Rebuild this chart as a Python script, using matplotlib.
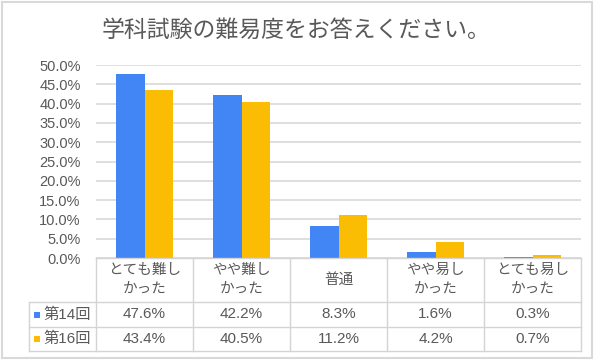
import matplotlib
matplotlib.use("Agg")
import matplotlib.pyplot as plt
from matplotlib.transforms import blended_transform_factory
from matplotlib.patches import Rectangle
import numpy as np

plt.rcParams['font.family'] = ['Liberation Sans', 'Noto Sans CJK JP', 'DejaVu Sans']

title = "学科試験の難易度をお答えください。"
categories = ["とても難し\nかった", "やや難し\nかった", "普通", "やや易し\nかった", "とても易し\nかった"]
series_names = ["第14回", "第16回"]
s14 = [47.6, 42.2, 8.3, 1.6, 0.3]
s16 = [43.4, 40.5, 11.2, 4.2, 0.7]
colors = ["#4285F4", "#FBBC04"]
yticks = [0, 5, 10, 15, 20, 25, 30, 35, 40, 45, 50]

W, H = 600, 363
fig = plt.figure(figsize=(6, 3.63), dpi=100)
fig.patch.set_facecolor("white")

def fx(px):
    return px / W

def fy(py):
    return (H - py) / H

# outer border
fig.add_artist(Rectangle((fx(2), fy(358)), fx(592) - fx(2), fy(2) - fy(358),
                         transform=fig.transFigure, fill=False, edgecolor="#d9d9d9", lw=1.5))

ax = fig.add_axes([fx(96), fy(258), fx(581) - fx(96), fy(65) - fy(258)])
n = len(categories)
x = np.arange(n) + 0.5
bw = 0.29
ax.bar(x - bw / 2, s14, bw, color=colors[0], zorder=3)
ax.bar(x + bw / 2, s16, bw, color=colors[1], zorder=3)
ax.set_xlim(0, n)
ax.set_ylim(0, 50)
ax.set_yticks(yticks)
ax.set_yticklabels([f"{v:.1f}%" for v in yticks])
ax.tick_params(axis='y', length=0, pad=11, labelsize=10.5, labelcolor="#595959")
ax.set_xticks([])
for s in ax.spines.values():
    s.set_visible(False)
ax.yaxis.grid(True, color="#d9d9d9", lw=1.2, zorder=0)
ax.set_axisbelow(True)

fig.text(fx(296), fy(30), title, ha="center", va="center", fontsize=16.5, color="#595959",
         family=['Noto Sans CJK JP', 'DejaVu Sans'])

# table
tr = blended_transform_factory(ax.transData, fig.transFigure)
tf = fig.transFigure
lc = "#d4d4d4"
row_top, row1, row2, row_bot = 258, 302, 327, 351
left_px = 29
fig.add_artist(plt.Line2D([0, n], [fy(row_top)] * 2, transform=tr, color=lc, lw=1))
for yy in (row1, row2, row_bot):
    fig.add_artist(plt.Line2D([fx(left_px), fx(581)], [fy(yy)] * 2, transform=tf, color=lc, lw=1))
for i in range(n + 1):
    fig.add_artist(plt.Line2D([i, i], [fy(row_top), fy(row_bot)], transform=tr, color=lc, lw=1))
fig.add_artist(plt.Line2D([fx(left_px)] * 2, [fy(row1), fy(row_bot)], transform=tf, color=lc, lw=1))

tc = "#595959"
for i, c in enumerate(categories):
    fig.text(x[i], fy((row_top + row1) / 2), c, transform=tr, ha="center", va="center",
             fontsize=10.5, color=tc, linespacing=1.5)
for r, (vals, yy) in enumerate(((s14, (row1 + row2) / 2), (s16, (row2 + row_bot) / 2))):
    for i, v in enumerate(vals):
        fig.text(x[i], fy(yy), f"{v:.1f}%", transform=tr, ha="center", va="center",
                 fontsize=11, color=tc)
    fig.add_artist(Rectangle((fx(34), fy(yy + 3)), fx(6), fy(0) - fy(6), transform=tf,
                             facecolor=colors[r], edgecolor="none"))
    fig.text(fx(43), fy(yy), series_names[r], ha="left", va="center", fontsize=11, color=tc)

fig.savefig("out.png", dpi=100)
